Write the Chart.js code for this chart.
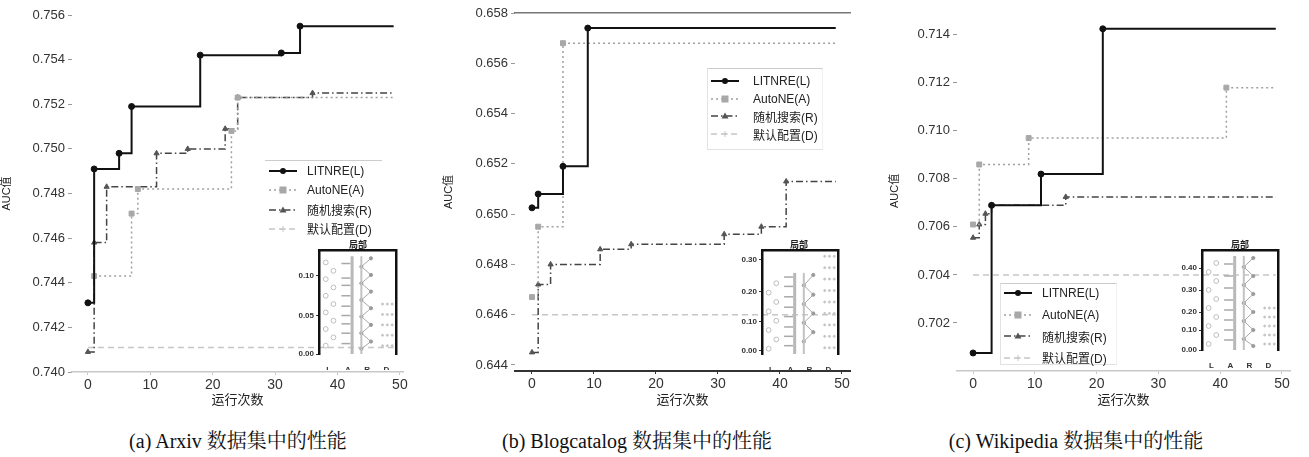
<!DOCTYPE html>
<html>
<head>
<meta charset="utf-8">
<script src="https://cdn.jsdelivr.net/npm/chart.js@4.4.1/dist/chart.umd.min.js"></script>
<style>
body { margin: 0; background: #fff; width: 1309px; height: 457px; position: relative; overflow: hidden; font-family: "Liberation Sans", "Noto Sans CJK SC", sans-serif; }
canvas { position: absolute; }
.legend { position: absolute; font-size: 12px; color: #222; box-sizing: border-box; }
.legend .row { position: absolute; height: 14px; display: flex; align-items: center; white-space: nowrap; }
.legend svg { display: block; }
.inset-title { position: absolute; font-size: 9px; font-weight: bold; color: #222; transform: translateX(-50%); }
.caption { position: absolute; top: 425px; font-family: "Liberation Serif", "Noto Serif CJK SC", "Noto Sans CJK SC", serif; font-size: 20px; color: #111; white-space: nowrap; transform: translateX(-50%); }
</style>
</head>
<body>
<div class="caption" style="left:238px">(a) Arxiv 数据集中的性能</div>
<div class="caption" style="left:637px">(b) Blogcatalog 数据集中的性能</div>
<div class="caption" style="left:1076px">(c) Wikipedia 数据集中的性能</div>
<script>
const seriesNames = ["LITNRE(L)", "AutoNE(A)", "随机搜索(R)", "默认配置(D)"];
const xTicks = [0, 10, 20, 30, 40, 50];

// (a) Arxiv
const arxivYTicks = [0.740, 0.742, 0.744, 0.746, 0.748, 0.750, 0.752, 0.754, 0.756];
const arxivLx = [0, 1, 5, 7, 18, 31, 34, 49];
const arxivLy = [0.7431, 0.7491, 0.7498, 0.7519, 0.7542, 0.7543, 0.7555, 0.7555];
const arxivAx = [1, 7, 8, 23, 24, 49];
const arxivAy = [0.7443, 0.7471, 0.7482, 0.7508, 0.7523, 0.7523];
const arxivRx = [0, 1, 3, 11, 16, 22, 24, 36, 49];
const arxivRy = [0.7409, 0.7458, 0.7483, 0.7498, 0.7500, 0.7509, 0.7523, 0.7525, 0.7525];
const arxivDx = [0, 49];
const arxivDy = [0.7411, 0.7411];

// (b) Blogcatalog
const blogYTicks = [0.644, 0.646, 0.648, 0.650, 0.652, 0.654, 0.656, 0.658];
const blogLx = [0, 1, 5, 9, 49];
const blogLy = [0.65025, 0.6508, 0.6519, 0.6574, 0.6574];
const blogAx = [0, 1, 5, 49];
const blogAy = [0.6467, 0.6495, 0.6568, 0.6568];
const blogRx = [0, 1, 3, 11, 16, 31, 37, 41, 49];
const blogRy = [0.6445, 0.6472, 0.6480, 0.6486, 0.6488, 0.6492, 0.6495, 0.6513, 0.6513];
const blogDx = [0, 49];
const blogDy = [0.6460, 0.6460];

// (c) Wikipedia
const wikiYTicks = [0.702, 0.704, 0.706, 0.708, 0.710, 0.712, 0.714];
const wikiLx = [0, 3, 11, 21, 49];
const wikiLy = [0.70075, 0.7069, 0.7082, 0.71425, 0.71425];
const wikiAx = [0, 1, 9, 41, 49];
const wikiAy = [0.7061, 0.7086, 0.7097, 0.7118, 0.7118];
const wikiRx = [0, 1, 2, 3, 15, 49];
const wikiRy = [0.70555, 0.7061, 0.70655, 0.7069, 0.70725, 0.70725];
const wikiDx = [0, 49];
const wikiDy = [0.7040, 0.7040];

// small inset boxes (normalised 0..1 heights)
const insetCats = ["L", "A", "R", "D"];
const arxivInsetTicks = [0, 0.37, 0.755];
const arxivInsetLabels = ["0.00", "0.05", "0.10"];
const arxivInsetL = [0.08, 0.16, 0.24, 0.32, 0.40, 0.48, 0.56, 0.64, 0.72, 0.80, 0.88];
const arxivInsetA = [0.10, 0.20, 0.29, 0.37, 0.46, 0.56, 0.66, 0.73, 0.87];
const arxivInsetR = [0.92, 0.84, 0.76, 0.68, 0.60, 0.52, 0.44, 0.36, 0.28, 0.20, 0.12, 0.05];
const arxivInsetD = [0.08, 0.18, 0.28, 0.38, 0.48];
const blogInsetTicks = [0.03, 0.31, 0.60, 0.91];
const blogInsetLabels = ["0.00", "0.10", "0.20", "0.30"];
const blogInsetL = [0.05, 0.14, 0.23, 0.32, 0.41, 0.50, 0.59, 0.68];
const blogInsetA = [0.08, 0.17, 0.26, 0.36, 0.45, 0.55, 0.65, 0.74];
const blogInsetR = [0.76, 0.66, 0.57, 0.48, 0.39, 0.30, 0.21, 0.12];
const blogInsetD = [0.06, 0.17, 0.28, 0.39, 0.50, 0.61, 0.72, 0.83, 0.94];
const wikiInsetTicks = [0, 0.2, 0.38, 0.6, 0.82];
const wikiInsetLabels = ["0.00", "0.10", "0.20", "0.30", "0.40"];
const wikiInsetL = [0.06, 0.15, 0.24, 0.33, 0.42, 0.51, 0.60, 0.69, 0.78, 0.87];
const wikiInsetA = [0.10, 0.20, 0.30, 0.40, 0.50, 0.62, 0.74, 0.86];
const wikiInsetR = [0.92, 0.83, 0.74, 0.65, 0.56, 0.47, 0.38, 0.29, 0.20, 0.11, 0.04];
const wikiInsetD = [0.06, 0.15, 0.24, 0.33, 0.42];

const FONT = '"Liberation Sans", "Noto Sans CJK SC", sans-serif';

const styles = [
	{ color: "#111111", width: 2, dash: [], point: "circle", r: 3, fill: "#111111" },
	{ color: "#a0a0a0", width: 1.5, dash: [2, 3], point: "rect", r: 3.5, fill: "#a8a8a8" },
	{ color: "#444444", width: 1.5, dash: [7, 3, 1.5, 3], point: "triangle", r: 3, fill: "#555555" },
	{ color: "#c6c6c6", width: 1.5, dash: [6, 4], point: "cross", r: 0, fill: "#c6c6c6" }
];

function addCanvas(left, top, w, h) {
	const cv = document.createElement("canvas");
	cv.width = w;
	cv.height = h;
	cv.style.left = left + "px";
	cv.style.top = top + "px";
	cv.style.width = w + "px";
	cv.style.height = h + "px";
	document.body.appendChild(cv);
	return cv;
}

function buildDataset(i, xs, ys) {
	const st = styles[i];
	return {
		label: seriesNames[i],
		data: xs.map((x, k) => ({ x: x, y: ys[k] })),
		// horizontal first, then the rise at the new run
		stepped: "before",
		borderColor: st.color,
		borderWidth: st.width,
		borderDash: st.dash,
		pointStyle: st.point,
		pointRadius: ctx => (ctx.dataIndex === xs.length - 1 ? 0 : st.r),
		pointBackgroundColor: st.fill,
		pointBorderColor: st.fill,
		pointBorderWidth: 1,
		fill: false
	};
}

function makePanel(p) {
	const H = 412;
	const cv = addCanvas(p.left, 0, p.width, H);
	const scales = {
		x: {
			type: "linear",
			min: p.xMin,
			max: p.xMax,
			afterBuildTicks: s => { s.ticks = xTicks.map(v => ({ value: v })); },
			afterFit: s => { s.height = H - p.areaBottom; },
			ticks: { callback: v => String(v), color: "#333", font: { family: FONT, size: 14 }, padding: 2, maxRotation: 0, autoSkip: false },
			grid: { drawOnChartArea: false, tickLength: 3, color: p.axisColor },
			border: { color: p.axisColor, width: p.axisWidth },
			title: { display: true, text: "运行次数", color: "#222", font: { family: FONT, size: 13 }, padding: { top: 0, bottom: 4 } }
		},
		y: {
			type: "linear",
			min: p.yMin,
			max: p.yMax,
			afterBuildTicks: s => { s.ticks = p.yTicks.map(v => ({ value: v })); },
			afterFit: s => { s.width = p.yW; },
			ticks: { callback: v => v.toFixed(3), color: "#333", font: { family: FONT, size: 13 }, padding: 3 },
			grid: { drawOnChartArea: false, tickLength: 4, color: "#999" },
			border: { display: false },
			title: { display: true, text: "AUC值", color: "#222", font: { family: FONT, size: 11 }, padding: { top: 0, bottom: 0 } }
		}
	};
	if (p.topBorder) {
		scales.x2 = {
			type: "linear",
			position: "top",
			min: p.xMin,
			max: p.xMax,
			ticks: { display: false },
			grid: { display: false },
			border: { color: "#777", width: 1.5 },
			afterFit: s => { s.height = 0; }
		};
	}
	new Chart(cv, {
		type: "line",
		data: {
			datasets: [
				buildDataset(0, p.Lx, p.Ly),
				buildDataset(1, p.Ax, p.Ay),
				buildDataset(2, p.Rx, p.Ry),
				buildDataset(3, p.Dx, p.Dy)
			]
		},
		options: {
			responsive: false,
			animation: false,
			events: [],
			layout: { padding: { top: p.areaTop, right: p.padR, left: 0, bottom: 0 } },
			plugins: { legend: { display: false }, tooltip: { enabled: false } },
			scales: scales
		}
	});
}

function makeInset(p) {
	const cv = addCanvas(p.left, p.top, p.w, p.h);
	const lPts = [];
	p.L.forEach((y, k) => lPts.push({ x: k % 2 ? 0.75 : 0.35, y: y }));
	const aPts = p.A.map(y => ({ x: 1.4, y: y }));
	const zig = p.R.map((y, k) => ({ x: k % 2 ? 2.2 : 2.7, y: y }));
	const dPts = [];
	[3.3, 3.55, 3.8].forEach(x => p.D.forEach(y => dPts.push({ x: x, y: y })));
	const top = Math.max.apply(null, p.R) + 0.02;
	new Chart(cv, {
		type: "scatter",
		data: {
			datasets: [
				{ data: lPts, pointStyle: "circle", pointRadius: 2.4, borderColor: "#bdbdbd", backgroundColor: "rgba(0,0,0,0)", borderWidth: 1 },
				{ data: [{ x: 1.72, y: 0 }, { x: 1.72, y: top }], showLine: true, borderColor: "#b8b8b8", borderWidth: 3, pointRadius: 0 },
				{ data: aPts, pointStyle: "line", pointRadius: 4.5, borderColor: "#a8a8a8", borderWidth: 1.5 },
				{ data: [{ x: 2.2, y: 0 }, { x: 2.2, y: top }], showLine: true, borderColor: "#c2c2c2", borderWidth: 2, pointRadius: 0 },
				{ data: zig, showLine: true, borderColor: "#a8a8a8", borderWidth: 1, pointRadius: 1.6, pointBackgroundColor: "#9a9a9a", pointBorderColor: "#9a9a9a" },
				{ data: dPts, pointRadius: 1, backgroundColor: "#c4c4c4", borderColor: "#c4c4c4" }
			]
		},
		options: {
			responsive: false,
			animation: false,
			events: [],
			layout: { padding: { top: p.padTop, right: p.padR, left: 0, bottom: 0 } },
			plugins: { legend: { display: false }, tooltip: { enabled: false } },
			scales: {
				x: {
					type: "linear", min: 0, max: 4,
					afterBuildTicks: s => { s.ticks = [0.5, 1.5, 2.5, 3.5].map(v => ({ value: v })); },
					afterFit: s => { s.height = p.xH; },
					ticks: { callback: (v, i) => insetCats[i], color: "#333", font: { family: FONT, size: 8, weight: "bold" }, padding: 3, maxRotation: 0, autoSkip: false },
					grid: { display: false },
					border: { display: false }
				},
				y: {
					type: "linear", min: 0, max: 1,
					afterBuildTicks: s => { s.ticks = p.ticks.map(v => ({ value: v })); },
					afterFit: s => { s.width = p.yW; },
					ticks: { callback: (v, i) => p.labels[i], color: "#333", font: { family: FONT, size: 8, weight: "bold" }, padding: 2 },
					grid: { drawOnChartArea: false, tickLength: 3, color: "#333" },
					border: { color: "#111", width: 2.5 }
				},
				y2: {
					type: "linear", position: "right", min: 0, max: 1,
					ticks: { display: false }, grid: { display: false },
					border: { color: "#111", width: 2.5 },
					afterFit: s => { s.width = 0; }
				},
				x2: {
					type: "linear", position: "top", min: 0, max: 4,
					ticks: { display: false }, grid: { display: false },
					border: { color: "#111", width: 2.5 },
					afterFit: s => { s.height = 0; }
				}
			}
		}
	});
	const t = document.createElement("div");
	t.className = "inset-title";
	t.textContent = "局部";
	t.style.left = p.titleX + "px";
	t.style.top = (p.top + p.padTop - 12) + "px";
	document.body.appendChild(t);
}

function sampleSvg(st) {
	let m = "";
	if (st.point === "circle") m = '<circle cx="14" cy="6" r="3" fill="' + st.fill + '"/>';
	if (st.point === "rect") m = '<rect x="10.5" y="2.5" width="7" height="7" fill="' + st.fill + '"/>';
	if (st.point === "triangle") m = '<polygon points="14,2.5 17.5,8.5 10.5,8.5" fill="' + st.fill + '"/>';
	if (st.point === "cross") m = '<path d="M14 3 V9 M11 6 H17" stroke="' + st.fill + '" stroke-width="1"/>';
	return '<svg width="28" height="12"><line x1="0" y1="6" x2="28" y2="6" stroke="' + st.color +
		'" stroke-width="' + st.width + '" stroke-dasharray="' + (st.dash.length ? st.dash.join(" ") : "none") + '"/>' + m + "</svg>";
}

function makeLegend(p) {
	const box = document.createElement("div");
	box.className = "legend";
	box.style.left = p.left + "px";
	box.style.top = p.top + "px";
	box.style.width = p.w + "px";
	box.style.height = p.h + "px";
	box.style.borderTop = "1px solid #ccc";
	if (p.frame) {
		box.style.borderLeft = "1px solid #e2e2e2";
		box.style.borderBottom = "1px solid #e2e2e2";
		box.style.borderRight = "1px solid #f0f0f0";
	}
	seriesNames.forEach((name, i) => {
		const row = document.createElement("div");
		row.className = "row";
		row.style.left = p.sampleX + "px";
		row.style.top = (p.row0 + i * p.step - 7) + "px";
		row.innerHTML = sampleSvg(styles[i]) + '<span style="margin-left:' + p.gap + 'px">' + name + "</span>";
		box.appendChild(row);
	});
	document.body.appendChild(box);
}

makePanel({
	left: 0, width: 410, yW: 72, padR: 7, areaTop: 15, areaBottom: 372,
	xMin: -2.55, xMax: 50.5, yMin: 0.740, yMax: 0.756, yTicks: arxivYTicks,
	axisColor: "#c8c8c8", axisWidth: 1.5, topBorder: false,
	Lx: arxivLx, Ly: arxivLy, Ax: arxivAx, Ay: arxivAy, Rx: arxivRx, Ry: arxivRy, Dx: arxivDx, Dy: arxivDy
});
makePanel({
	left: 442, width: 418, yW: 73, padR: 10, areaTop: 13, areaBottom: 371,
	xMin: -2.74, xMax: 51.3, yMin: 0.64376, yMax: 0.658, yTicks: blogYTicks,
	axisColor: "#333", axisWidth: 2, topBorder: true,
	Lx: blogLx, Ly: blogLy, Ax: blogAx, Ay: blogAy, Rx: blogRx, Ry: blogRy, Dx: blogDx, Dy: blogDy
});
makePanel({
	left: 888, width: 421, yW: 69, padR: 19, areaTop: 9, areaBottom: 371,
	xMin: -2.6, xMax: 51.3, yMin: 0.700, yMax: 0.715, yTicks: wikiYTicks,
	axisColor: "#c8c8c8", axisWidth: 1.5, topBorder: false,
	Lx: wikiLx, Ly: wikiLy, Ax: wikiAx, Ay: wikiAy, Rx: wikiRx, Ry: wikiRy, Dx: wikiDx, Dy: wikiDy
});

makeInset({ left: 281, top: 236, w: 124, h: 134, yW: 38, padR: 9, padTop: 14, xH: 16,
	ticks: arxivInsetTicks, labels: arxivInsetLabels, L: arxivInsetL, A: arxivInsetA, R: arxivInsetR, D: arxivInsetD, titleX: 358 });
makeInset({ left: 723, top: 236, w: 124, h: 134, yW: 39, padR: 9, padTop: 14, xH: 16,
	ticks: blogInsetTicks, labels: blogInsetLabels, L: blogInsetL, A: blogInsetA, R: blogInsetR, D: blogInsetD, titleX: 799 });
makeInset({ left: 1163, top: 236, w: 124, h: 132, yW: 39, padR: 9, padTop: 14, xH: 18,
	ticks: wikiInsetTicks, labels: wikiInsetLabels, L: wikiInsetL, A: wikiInsetA, R: wikiInsetR, D: wikiInsetD, titleX: 1240 });

makeLegend({ left: 265, top: 160, w: 117, h: 80, row0: 10, step: 19.3, sampleX: 4, gap: 10, frame: false });
makeLegend({ left: 707, top: 68, w: 116, h: 82, row0: 12, step: 17.7, sampleX: 3, gap: 14, frame: true });
makeLegend({ left: 1000, top: 283, w: 117, h: 82, row0: 9, step: 21.5, sampleX: 3, gap: 10, frame: true });
</script>
</body>
</html>
